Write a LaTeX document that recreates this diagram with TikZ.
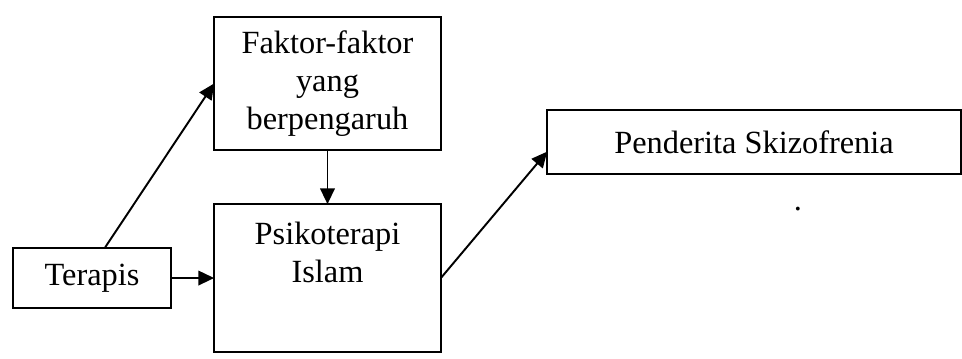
\documentclass[tikz,border=0pt]{standalone}
\usepackage{fontspec}
\setmainfont{Liberation Serif}
\usetikzlibrary{arrows.meta,calc}

\begin{document}
\begin{tikzpicture}[every node/.style={inner sep=0,outer sep=0},
    box/.style={draw,line width=0.8pt,align=center,
        font=\fontsize{13.4}{15.8}\selectfont},
    arr/.style={line width=0.8pt,-{Triangle[length=6.5pt,width=6pt]}}]
    \useasboundingbox (0,0) rectangle (14,-5.21);
    \node[box,minimum width=3.30cm,minimum height=1.94cm](faktor) at (4.766,-1.215)
        {Faktor-faktor\\yang\\berpengaruh};
    \node[box,minimum width=3.30cm,minimum height=2.15cm,text depth=0.75cm](psiko)
        at (4.766,-4.046) {Psikoterapi\\Islam};
    \node[box,minimum width=2.30cm,minimum height=0.87cm](terapis) at (1.339,-4.046)
        {Terapis};
    \node[box,minimum width=6.02cm,minimum height=0.93cm](penderita) at (10.973,-2.067)
        {Penderita Skizofrenia};
    \node[font=\fontsize{13.4}{15.8}\selectfont,anchor=base](titik) at (11.613,-3.06) {.};
    \draw[arr] ($(terapis.north west)!0.58!(terapis.north east)$) -- (faktor.west);
    \draw[arr] (faktor) -- (psiko);
    \draw[arr] (terapis) -- (psiko);
    \draw[arr] (psiko.east) -- ($(penderita.north west)!0.65!(penderita.south west)$);
\end{tikzpicture}
\end{document}
